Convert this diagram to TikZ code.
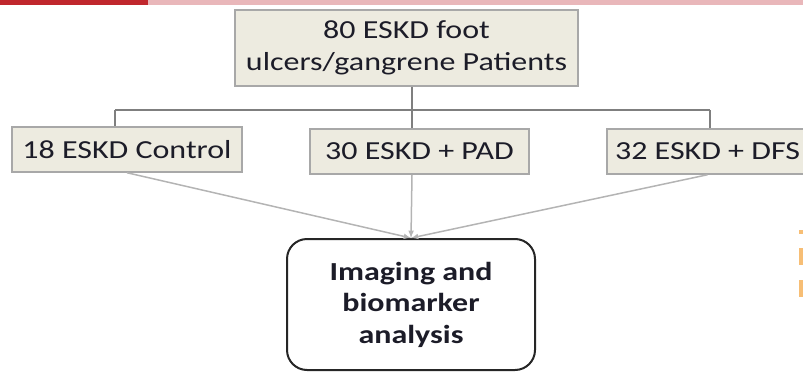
\documentclass[tikz,border=0pt]{standalone}
\usepackage{fontspec}
\setmainfont{Carlito}[FakeStretch=1.23]
\usepackage{tikz}
\usetikzlibrary{positioning,arrows}
\definecolor{boxfill}{HTML}{EDEBE0}
\definecolor{boxline}{HTML}{A8A8A8}
\definecolor{busline}{HTML}{7F7F7F}
\definecolor{feedline}{HTML}{B4B4B4}
\definecolor{slidered}{HTML}{C0272D}
\definecolor{slidepink}{HTML}{E9B7BA}
\definecolor{bullet}{HTML}{F7BE75}
\definecolor{txt}{HTML}{1C1C28}

\begin{document}
\begin{tikzpicture}[x=1pt, y=-1pt, line width=1.5pt, >=latex,
    font=\fontsize{26}{31.5}\selectfont,
    grp/.style={draw=boxline, fill=boxfill, inner sep=0pt, text=txt, minimum height=45pt},
    res/.style={draw=black!85, line width=2pt, rounded corners=20pt, fill=white, inner sep=0pt,
        align=center, text=txt, font=\fontsize{26}{31.5}\selectfont\bfseries,
        minimum width=248pt, minimum height=131pt}]
    \useasboundingbox (0,0) rectangle (803,372);

    % slide decoration
    \fill[slidepink] (148,0) rectangle (803,5);
    \fill[slidered] (0,0) rectangle (148,5);
    \fill[bullet] (799,230) rectangle (803,234);
    \fill[bullet] (799,248) rectangle (803,265);
    \fill[bullet] (799,280) rectangle (803,297);

    \node[grp, align=center, minimum width=343pt, minimum height=76pt] (pat) at (406.5,48)
        {80 ESKD foot\\ulcers/gangrene Patients};
    \node[grp, minimum width=230pt] (ctrl) at (127,149.5) {18 ESKD Control};
    \node[grp, minimum width=219pt] (pad) at (419.5,151.5) {30 ESKD + PAD};
    \node[grp, minimum width=201pt] (dfs) at (707.5,151.5) {32 ESKD + DFS};
    \node[res] (ana) at (411,304.5) {Imaging and\\biomarker\\analysis};

    % bus from the patients box
    \coordinate (busL) at (115,110);
    \coordinate (busM) at (412,110);
    \coordinate (busR) at (710,110);
    \draw[busline] (busM |- pat.south) -- (busM);
    \draw[busline] (busL) -- (busR);
    \draw[busline] (busL) -- (busL |- ctrl.north);
    \draw[busline] (busM) -- (busM |- pad.north);
    \draw[busline] (busR) -- (busR |- dfs.north);

    % groups into the analysis
    \draw[->, feedline] (ctrl.south) -- (ana.north);
    \draw[->, feedline] (busM |- pad.south) -- (ana.north);
    \draw[->, feedline] (dfs.south) -- (ana.north);
\end{tikzpicture}
\end{document}
